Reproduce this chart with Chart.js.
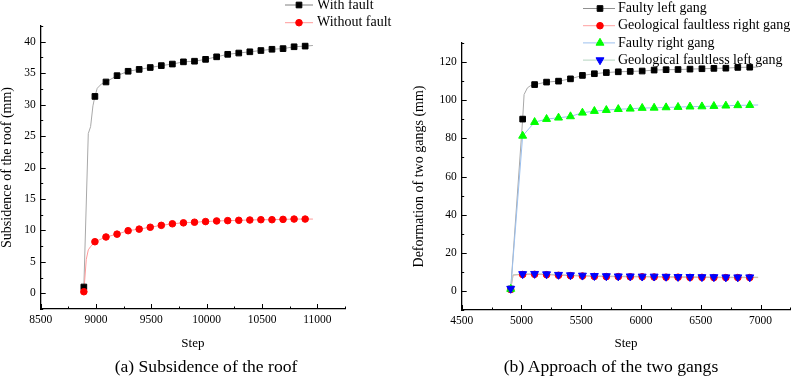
<!DOCTYPE html>
<html><head><meta charset="utf-8">
<script src="https://cdn.jsdelivr.net/npm/chart.js@4.4.1/dist/chart.umd.min.js"></script>
<style>
html,body{margin:0;padding:0;background:#fff;}
#wrap{position:relative;width:796px;height:383px;overflow:hidden;background:#fff;}
canvas{position:absolute;top:0;}
.cap{position:absolute;top:356px;font-family:'Liberation Serif','Times New Roman',serif;font-size:17.6px;color:#000;white-space:nowrap;transform:translateX(-50%);line-height:20px;}
</style></head><body>
<div id="wrap">
<canvas id="c1" width="400" height="383" style="left:0"></canvas>
<canvas id="c2" width="396" height="383" style="left:400px"></canvas>
<div class="cap" style="left:206px">(a) Subsidence of the roof</div>
<div class="cap" style="left:611px">(b) Approach of the two gangs</div>
</div>
<script>
// ---------- data ----------
const roofSteps = [8890, 8990, 9090, 9190, 9290, 9390, 9490, 9590, 9690, 9790, 9890, 9990, 10090, 10190, 10290, 10390, 10490, 10590, 10690, 10790, 10890];
const withFault = [1.0, 31.3, 33.6, 34.6, 35.3, 35.6, 35.9, 36.2, 36.45, 36.8, 36.9, 37.2, 37.6, 38.0, 38.2, 38.4, 38.6, 38.8, 38.9, 39.2, 39.3];
const withoutFault = [0.25, 8.2, 8.95, 9.4, 9.95, 10.2, 10.5, 10.8, 11.05, 11.2, 11.3, 11.4, 11.5, 11.55, 11.6, 11.65, 11.7, 11.7, 11.75, 11.8, 11.8];
// extra points of the traced lines (between / after the symbols)
const withFaultTrace = [[8930, 25.4], [8951, 26.5], [8972, 29.8], [9011, 32.6], [9050, 33.3], [10960, 39.4]];
const withoutFaultTrace = [[8912, 5.4], [8930, 6.9], [8950, 7.4], [10960, 11.8]];

const gangSteps = [4910, 5010, 5110, 5210, 5310, 5410, 5510, 5610, 5710, 5810, 5910, 6010, 6110, 6210, 6310, 6410, 6510, 6610, 6710, 6810, 6910];
const faultyLeft = [1.0, 90.1, 108.2, 109.5, 110.0, 111.2, 113.0, 113.9, 114.5, 114.9, 115.1, 115.3, 115.8, 116.0, 116.1, 116.3, 116.5, 116.7, 116.8, 117.2, 117.3];
const faultlessRight = [0.8, 8.6, 8.7, 8.5, 8.2, 8.0, 7.8, 7.6, 7.5, 7.5, 7.4, 7.4, 7.3, 7.2, 7.2, 7.1, 7.1, 7.0, 7.0, 7.0, 7.0];
const faultyRight = [1.0, 81.3, 88.5, 90.1, 90.8, 91.5, 93.4, 94.3, 94.8, 95.3, 95.5, 95.9, 96.0, 96.2, 96.4, 96.6, 96.7, 96.9, 97.1, 97.3, 97.4];
const faultlessLeft = [1.2, 8.9, 9.0, 8.8, 8.5, 8.3, 8.1, 7.9, 7.8, 7.7, 7.7, 7.6, 7.6, 7.5, 7.4, 7.4, 7.3, 7.3, 7.2, 7.2, 7.2];
const faultyLeftTrace = [[5022, 103.0], [5050, 106.5], [5075, 107.6], [6980, 117.4]];
const faultlessRightTrace = [[4930, 8.3], [6980, 7.0]];
const faultyRightTrace = [[6980, 97.5]];
const faultlessLeftTrace = [[4930, 8.4], [6980, 7.2]];

const roofXTicks = [8500, 9000, 9500, 10000, 10500, 11000];
const roofYTicks = [0, 5, 10, 15, 20, 25, 30, 35, 40];
const gangXTicks = [4500, 5000, 5500, 6000, 6500, 7000];
const gangYTicks = [0, 20, 40, 60, 80, 100, 120];

// ---------- helpers ----------
const FONT = "'Liberation Serif','Times New Roman',serif";
Chart.defaults.font.family = FONT;
Chart.defaults.color = '#000';

const pts = (xs, ys) => xs.map((x, i) => ({x: x, y: ys[i]}));
const trace = (xs, ys, extra) => pts(xs, ys).concat(extra.map(p => ({x: p[0], y: p[1]}))).sort((a, b) => a.x - b.x);

function markerSet(label, xs, ys, color, style, radius, rotation) {
  return {label, data: pts(xs, ys), showLine: false, pointStyle: style, pointRadius: radius,
    pointRotation: rotation || 0, pointBackgroundColor: color, pointBorderColor: color, pointBorderWidth: 1};
}
function lineSet(label, data, color) {
  return {label, data, showLine: true, borderColor: color, borderWidth: 1, pointRadius: 0, tension: 0};
}

function makeTicks(cfg) {
  return {
    id: 'inTicks',
    beforeDatasetsDraw(chart) {
      const ctx = chart.ctx, xs = chart.scales.x, ys = chart.scales.y;
      ctx.save();
      ctx.strokeStyle = '#000'; ctx.lineWidth = 1;
      ctx.beginPath();
      for (let v = xs.min; v <= xs.max + 1e-6; v += cfg.xMinor) {
        const len = (Math.abs(((v - xs.min) / cfg.xMajor) - Math.round((v - xs.min) / cfg.xMajor)) < 1e-6) ? 5 : 2.5;
        const px = Math.round(xs.getPixelForValue(v)) + 0.5;
        ctx.moveTo(px, ys.bottom); ctx.lineTo(px, ys.bottom - len);
      }
      for (let v = ys.min; v <= ys.max + 1e-6; v += cfg.yMinor) {
        const len = (Math.abs(v / cfg.yMajor - Math.round(v / cfg.yMajor)) < 1e-6) ? 5 : 2.5;
        const py = Math.round(ys.getPixelForValue(v)) + 0.5;
        ctx.moveTo(xs.left, py); ctx.lineTo(xs.left + len, py);
      }
      ctx.stroke();
      ctx.restore();
    }
  };
}

function makeLegend(items, g) {
  return {
    id: 'lineLegend',
    afterDraw(chart) {
      const ctx = chart.ctx;
      ctx.save();
      items.forEach((it, i) => {
        const y = g.y0 + i * g.dy;
        ctx.strokeStyle = it.line; ctx.lineWidth = 1;
        ctx.beginPath(); ctx.moveTo(g.x0, y); ctx.lineTo(g.x1, y); ctx.stroke();
        ctx.fillStyle = it.color; ctx.strokeStyle = it.color;
        Chart.helpers.drawPoint(ctx, {pointStyle: it.style, radius: it.radius, rotation: it.rotation || 0, borderWidth: 1}, g.xm, y);
        ctx.fillStyle = '#000';
        ctx.font = '14px ' + FONT;
        ctx.textBaseline = 'middle'; ctx.textAlign = 'left';
        ctx.fillText(it.label, g.tx, y);
      });
      ctx.restore();
    }
  };
}

function axes(o) {
  const tickFont = {size: 11.5, family: FONT};
  return {
    x: {type: 'linear', min: o.xmin, max: o.xmax,
      afterBuildTicks: s => { s.ticks = o.xticks.map(v => ({value: v})); },
      afterFit: s => { s.height = o.xh; },
      ticks: {font: tickFont, color: '#000', padding: 4, maxRotation: 0, autoSkip: false, callback: v => String(v)},
      grid: {display: false, drawTicks: false},
      border: {display: true, color: '#000', width: 1.3},
      title: {display: true, text: 'Step', font: {size: 13, family: FONT, lineHeight: 1}, padding: {top: 0, bottom: 0}, color: '#000'}},
    y: {type: 'linear', min: o.ymin, max: o.ymax,
      afterBuildTicks: s => { s.ticks = o.yticks.map(v => ({value: v})); },
      afterFit: s => { s.width = o.yw; },
      ticks: {font: tickFont, color: '#000', padding: 5, callback: v => String(v)},
      grid: {display: false, drawTicks: false},
      border: {display: true, color: '#000', width: 1.3},
      title: {display: true, text: o.ytitle, font: {size: 14, family: FONT, lineHeight: 1}, padding: {top: 0, bottom: 0}, color: '#000'}}
  };
}

const baseOpts = {responsive: false, animation: false, events: [],
  plugins: {legend: {display: false}, tooltip: {enabled: false}}};

// ---------- chart (a) ----------
new Chart(document.getElementById('c1'), {
  type: 'scatter',
  data: {datasets: [
    markerSet('Without fault', roofSteps, withoutFault, '#ff0000', 'circle', 3.3),
    markerSet('With fault', roofSteps, withFault, '#000000', 'rect', 4.0),
    lineSet('Without fault line', trace(roofSteps, withoutFault, withoutFaultTrace), '#ff9a9a'),
    lineSet('With fault line', trace(roofSteps, withFault, withFaultTrace), '#a8a8a8')
  ]},
  options: Object.assign({}, baseOpts, {
    layout: {padding: {left: 0, top: 26, right: 55, bottom: 33}},
    scales: axes({xmin: 8500, xmax: 11250, xticks: roofXTicks, ymin: -2.5, ymax: 42.5, yticks: roofYTicks,
      xh: 41, yw: 40.7, ytitle: 'Subsidence of the roof (mm)'})
  }),
  plugins: [makeTicks({xMinor: 250, xMajor: 500, yMinor: 2.5, yMajor: 5}),
    makeLegend([
      {label: 'With fault', line: '#808080', color: '#000', style: 'rect', radius: 4.0},
      {label: 'Without fault', line: '#ff9a9a', color: '#ff0000', style: 'circle', radius: 3.3}
    ], {x0: 285, x1: 313, xm: 299, tx: 317, y0: 5, dy: 17.7})]
});

// ---------- chart (b) ----------
new Chart(document.getElementById('c2'), {
  type: 'scatter',
  data: {datasets: [
    markerSet('Geological faultless left gang', gangSteps, faultlessLeft, '#0000ff', 'triangle', 4.6, 180),
    markerSet('Faulty right gang', gangSteps, faultyRight, '#00ff00', 'triangle', 4.6),
    markerSet('Geological faultless right gang', gangSteps, faultlessRight, '#ff0000', 'circle', 3.3),
    markerSet('Faulty left gang', gangSteps, faultyLeft, '#000000', 'rect', 4.0),
    lineSet('left faultless line', trace(gangSteps, faultlessLeft, faultlessLeftTrace), '#b4ccc0'),
    lineSet('right faulty line', trace(gangSteps, faultyRight, faultyRightTrace), '#9cc0ee'),
    lineSet('right faultless line', trace(gangSteps, faultlessRight, faultlessRightTrace), '#ffa0a0'),
    lineSet('left faulty line', trace(gangSteps, faultyLeft, faultyLeftTrace), '#a8a8a8')
  ]},
  options: Object.assign({}, baseOpts, {
    layout: {padding: {left: 12, top: 43, right: 1, bottom: 33}},
    scales: axes({xmin: 4500, xmax: 7250, xticks: gangXTicks, ymin: -10, ymax: 130, yticks: gangYTicks,
      xh: 40, yw: 49.7, ytitle: 'Deformation of two gangs (mm)'})
  }),
  plugins: [makeTicks({xMinor: 250, xMajor: 500, yMinor: 10, yMajor: 20}),
    makeLegend([
      {label: 'Faulty left gang', line: '#909090', color: '#000', style: 'rect', radius: 4.0},
      {label: 'Geological faultless right gang', line: '#ffa0a0', color: '#ff0000', style: 'circle', radius: 3.3},
      {label: 'Faulty right gang', line: '#9cc0ee', color: '#00ff00', style: 'triangle', radius: 4.6},
      {label: 'Geological faultless left gang', line: '#b4d4c0', color: '#0000ff', style: 'triangle', radius: 4.6, rotation: 180}
    ], {x0: 183, x1: 215, xm: 200, tx: 218, y0: 8.5, dy: 17.2})]
});
</script>
</body></html>
